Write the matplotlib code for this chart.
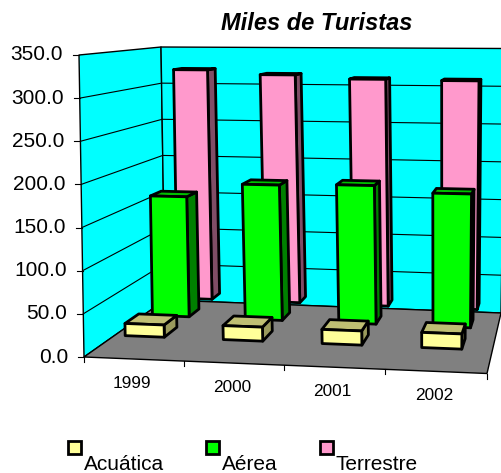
import numpy as np
import matplotlib
matplotlib.use("Agg")
import matplotlib.pyplot as plt
from matplotlib.patches import Polygon, Rectangle

plt.rcParams['font.family'] = ['Liberation Sans', 'DejaVu Sans']

years = ['1999', '2000', '2001', '2002']
series_names = ['Acuática', 'Aérea', 'Terrestre']
acuatica = [15, 17, 17, 18]
aerea = [157, 175, 177, 169]
terrestre = [318, 312, 307, 306]
y_ticks = [0, 50, 100, 150, 200, 250, 300, 350]
title = 'Miles de Turistas'

FILL = ['#FFFF99', '#00FF00', '#FF99CC']
TOP = ['#BFBF73', '#00BF00', '#BF7399']
SIDE = ['#99995C', '#008000', '#804D66']
ROW_Z = [0.34, 0.70, 1.05]
BAR_DZ = [0.17, 0.15, 0.13]
BAR_HALF = [0.21, 0.21, 0.21]
BAR_X0 = [0.32, 0.31, 0.32]
BAR_STEP = [1.05, 1.06, 1.06]
YMAX = 350.0


def homography(dst):
    src = [(0, 0), (4, 0), (4, 1), (0, 1)]
    A, b = [], []
    for (u, v), (x, y) in zip(src, dst):
        A.append([u, v, 1, 0, 0, 0, -u * x, -v * x]); b.append(x)
        A.append([0, 0, 0, u, v, 1, -u * y, -v * y]); b.append(y)
    h = np.linalg.solve(np.array(A, float), np.array(b, float))
    return np.append(h, 1).reshape(3, 3)


H_floor = homography([(84, 357), (487, 373.5), (501, 313), (165, 300)])
H_top = homography([(79, 55), (492, 57.5), (505, 48.5), (161, 47)])


def apply(H, u, z):
    p = H @ np.array([u, z, 1.0])
    return p[:2] / p[2]


def proj(u, z, v):
    a, b = apply(H_floor, u, z), apply(H_top, u, z)
    return tuple(a + (b - a) * v / YMAX)


fig = plt.figure(figsize=(5.01, 4.73), dpi=100)
ax = fig.add_axes([0, 0, 1, 1])
ax.set_xlim(0, 501)
ax.set_ylim(473, 0)
ax.axis('off')


def poly(pts, fc, lw=1.0, zo=1):
    ax.add_patch(Polygon(pts, closed=True, facecolor=fc, edgecolor='black',
                         linewidth=lw, joinstyle='round', zorder=zo))


# walls and floor
poly([proj(0, 0, 0), proj(0, 1, 0), proj(0, 1, YMAX), proj(0, 0, YMAX)], '#00FFFF', 1.0, 1)
poly([proj(0, 1, 0), proj(4, 1, 0), proj(4, 1, YMAX), proj(0, 1, YMAX)], '#00FFFF', 1.0, 1)
for t in y_ticks[1:-1]:
    ax.plot(*zip(proj(0, 0, t), proj(0, 1, t), proj(4, 1, t)), color='black', lw=0.8, zorder=2)
poly([proj(0, 0, 0), proj(4, 0, 0), proj(4, 1, 0), proj(0, 1, 0)], '#808080', 1.0, 3)

# axis ticks and labels
for t in y_ticks:
    x, y = proj(0, 0, t)
    ax.plot([x - 6, x], [y, y], color='black', lw=0.8, zorder=3)
    ax.text(x - 16, y, f'{t:.1f}', ha='right', va='center', fontsize=15, color='black')
for i in range(5):
    x, y = proj(i, 0, 0)
    ax.plot([x, x], [y, y + 5], color='black', lw=0.8, zorder=3)
for i, yr in enumerate(years):
    x, y = proj(i + 0.5, 0, 0)
    ax.text(x - 2, y + 24, yr, ha='center', va='center', fontsize=12.4)

# bars, back row first
all_series = [acuatica, aerea, terrestre]
zo = 10
for row in [2, 1, 0]:
    z0, z1 = ROW_Z[row], ROW_Z[row] + BAR_DZ[row]
    for i, val in enumerate(all_series[row]):
        c = BAR_X0[row] + BAR_STEP[row] * i
        u0, u1 = c - BAR_HALF[row], c + BAR_HALF[row]
        poly([proj(u1, z0, 0), proj(u1, z1, 0), proj(u1, z1, val), proj(u1, z0, val)], SIDE[row], 2.0, zo)
        poly([proj(u0, z0, val), proj(u1, z0, val), proj(u1, z1, val), proj(u0, z1, val)], TOP[row], 2.0, zo)
        poly([proj(u0, z0, 0), proj(u1, z0, 0), proj(u1, z0, val), proj(u0, z0, val)], FILL[row], 2.0, zo)
        zo += 1

# title
ax.text(316.5, 23, title, ha='center', va='center', fontsize=17,
        fontweight='bold', fontstyle='italic')

# legend
legend_marker_x = [75, 213, 327]
legend_text_x = [84, 222, 336]
for nm, mx, tx, fc in zip(series_names, legend_marker_x, legend_text_x, FILL):
    ax.add_patch(Rectangle((mx - 6.5, 441), 13, 13, facecolor=fc, edgecolor='black', linewidth=2.0))
    ax.text(tx, 470, nm, ha='left', va='baseline', fontsize=15)

fig.savefig('out.png', dpi=100)
